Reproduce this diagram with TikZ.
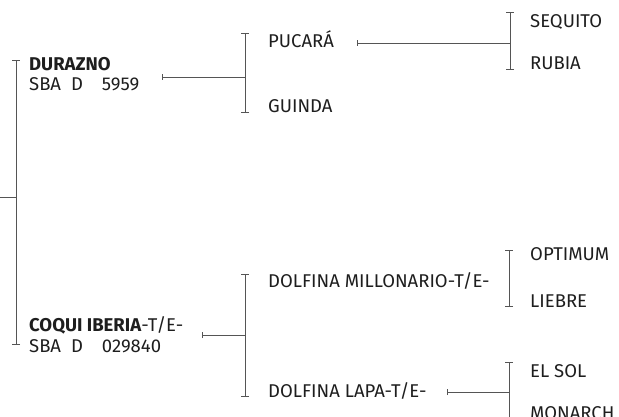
\documentclass[tikz,border=0pt]{standalone}
\usepackage{fontspec}
\setmainfont{Fira Sans}
\usetikzlibrary{arrows.meta,positioning}
\definecolor{ink}{HTML}{1E1E1E}
\definecolor{rulegray}{HTML}{555555}

\begin{document}
\begin{tikzpicture}[x=1pt,y=-1pt,font=\fontsize{18.5}{20.5}\selectfont,
  every node/.style={inner sep=0pt,text=ink,anchor=base west},
  bracket/.style={rulegray,line width=.9pt,{Bar[width=8pt]}-{Bar[width=8pt]}},
  link/.style={rulegray,line width=.9pt,{Bar[width=6pt]}-}]
\useasboundingbox (0,0) rectangle (619,417);
\clip (0,0) rectangle (619,417);
% root bracket
\coordinate (in) at (0,197);
\coordinate (rt) at (16,60);
\coordinate (rb) at (16,345);
\draw[bracket] (rt)--(rb);
\draw[rulegray,line width=.9pt] (in)--(in-|rt);
% sire line
\node[align=left] (durazno) at (29,91) {\textbf{DURAZNO}\\SBA\hspace{10pt}D\hspace{19pt}5959};
\node (pucara) at (268,48) {PUCARÁ};
\node (guinda) at (268,113) {GUINDA};
\node (sequito) at (530,28) {SEQUITO};
\node (rubia) at (530,70) {RUBIA};
\coordinate (b1t) at (245,33); \coordinate (b1b) at (245,113);
\coordinate (b2t) at (510,12); \coordinate (b2b) at (510,70);
\draw[bracket] (b1t)--(b1b);
\draw[bracket] (b2t)--(b2b);
\coordinate (dur-out) at (162,77);
\coordinate (puc-out) at (357,43);
\draw[link] (dur-out)--(dur-out-|b1t);
\draw[link] (puc-out)--(puc-out-|b2t);
% dam line
\node[align=left] (coqui) at (29,352) {\textbf{COQUI IBERIA}-T/E-\\SBA\hspace{10pt}D\hspace{19pt}029840};
\node (millonario) at (268,287) {DOLFINA MILLONARIO-T/E-};
\node (lapa) at (268,397) {DOLFINA LAPA-T/E-};
\node (optimum) at (530,260.5) {OPTIMUM};
\node (liebre) at (530,307) {LIEBRE};
\node (elsol) at (530,377) {EL SOL};
\node (monarch) at (530,419) {MONARCH};
\coordinate (b3t) at (245,274); \coordinate (b3b) at (245,397);
\coordinate (b4t) at (509,250); \coordinate (b4b) at (509,307);
\coordinate (b5t) at (509,362); \coordinate (b5b) at (509,425);
\draw[bracket] (b3t)--(b3b);
\draw[bracket] (b4t)--(b4b);
\draw[bracket] (b5t)--(b5b);
\coordinate (coq-out) at (202,335);
\coordinate (lap-out) at (447,392);
\draw[link] (coq-out)--(coq-out-|b3t);
\draw[link] (lap-out)--(lap-out-|b5t);
\end{tikzpicture}
\end{document}
